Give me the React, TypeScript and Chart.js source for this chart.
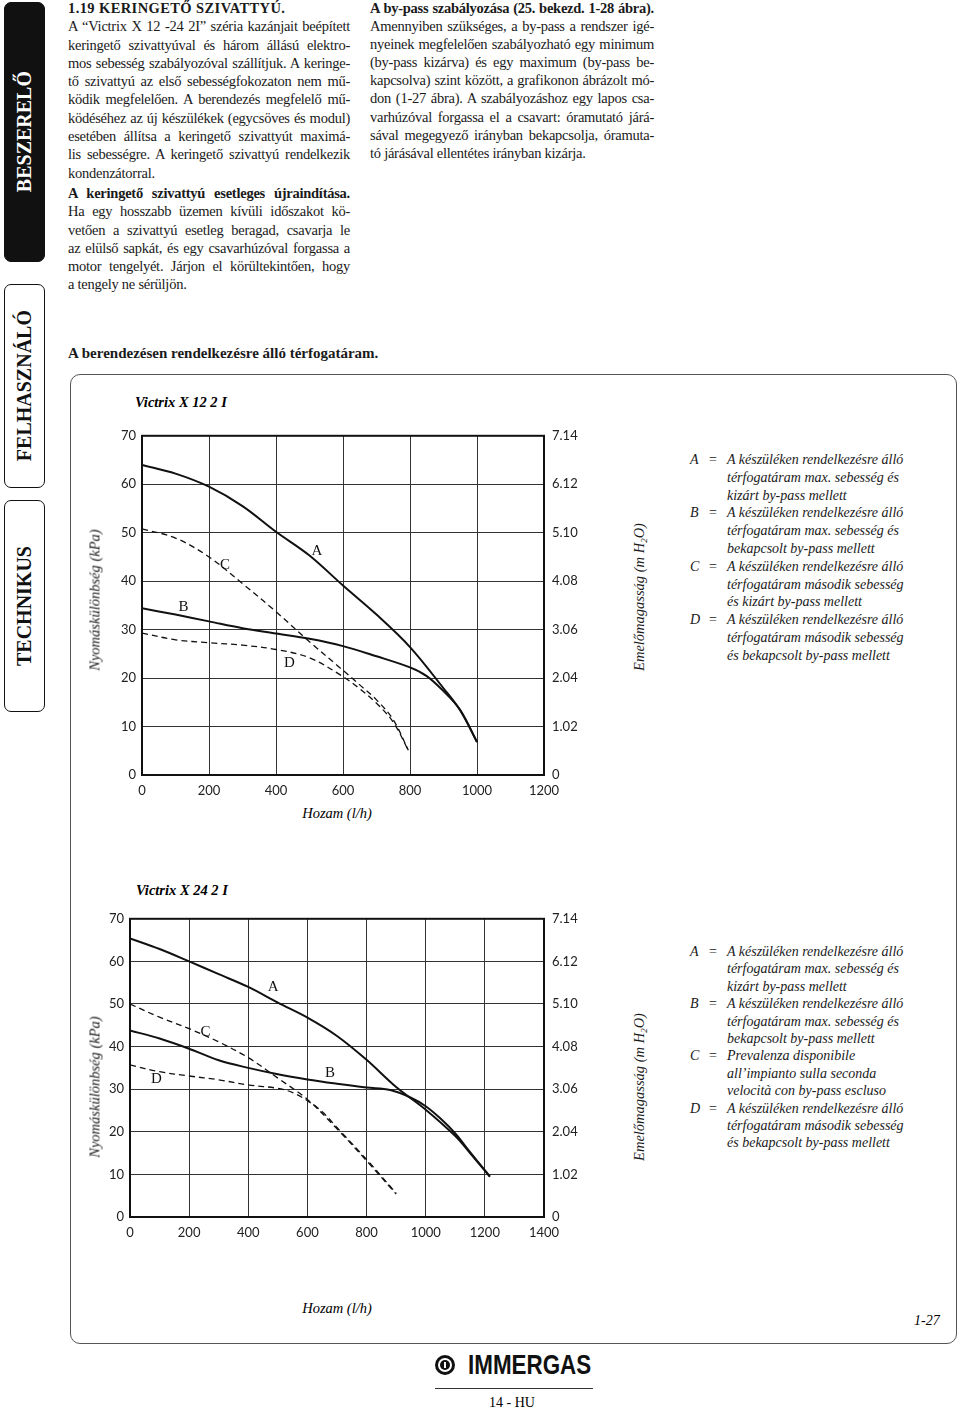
import React, { useEffect, useRef } from 'react';
import { Chart, registerables } from 'chart.js';
Chart.register(...registerables);

// ---------- DATA ----------
// Victrix X 12 2 I
const x12A = [0, 100, 200, 300, 400, 500, 600, 700, 800, 900, 950, 1000];
const y12A = [64.0, 62.2, 59.5, 55.5, 50.2, 45.3, 39.1, 33.1, 26.4, 17.9, 13.3, 6.8];
const x12B = [0, 100, 200, 300, 400, 500, 600, 700, 800, 850, 900, 950, 1000];
const y12B = [34.4, 33.1, 31.7, 30.3, 29.2, 28.1, 26.6, 24.5, 22.2, 20.4, 17.3, 13.4, 6.8];
const x12C = [0, 100, 200, 300, 400, 500, 600, 650, 700, 750, 795];
const y12C = [50.8, 48.9, 45.0, 39.5, 33.7, 27.5, 21.6, 18.6, 15.5, 11.4, 5.1];
const x12D = [0, 100, 200, 300, 400, 500, 600, 650, 700, 750, 795];
const y12D = [29.3, 27.9, 27.3, 26.8, 25.9, 24.2, 20.3, 17.8, 14.8, 10.9, 5.1];
const names12 = ['A', 'B', 'C', 'D'];
const labelX12 = [522, 124, 248, 440];
const labelY12 = [46.3, 34.6, 43.4, 23.0];

// Victrix X 24 2 I
const x24A = [0, 100, 200, 300, 400, 500, 600, 700, 800, 900, 1000, 1100, 1150, 1217];
const y24A = [65.4, 62.9, 60.0, 57.0, 54.0, 50.3, 46.8, 42.5, 36.9, 30.5, 25.2, 19.0, 15.0, 9.5];
const x24B = [0, 100, 200, 300, 400, 500, 600, 700, 800, 880, 950, 1000, 1050, 1100, 1150, 1217];
const y24B = [43.8, 41.9, 39.5, 36.8, 35.0, 33.5, 32.3, 31.3, 30.4, 29.8, 28.0, 26.0, 23.1, 19.6, 15.2, 9.5];
const x24C = [0, 100, 200, 300, 400, 500, 600, 700, 800, 900];
const y24C = [50.0, 46.9, 44.2, 41.1, 37.4, 32.6, 27.6, 20.7, 13.2, 5.4];
const x24D = [0, 100, 200, 300, 400, 500, 550, 600, 650, 700, 800, 900];
const y24D = [35.7, 34.1, 33.1, 32.2, 31.0, 30.2, 29.2, 27.3, 24.7, 21.0, 13.5, 5.6];
const names24 = ['A', 'B', 'C', 'D'];
const labelX24 = [484, 676, 255, 89];
const labelY24 = [53.9, 33.8, 43.5, 32.4];

const rightTickLabels = ['0', '1.02', '2.04', '3.06', '4.08', '5.10', '6.12', '7.14'];

// ---------- TEXT ----------
const leftColLines = [
  ['1.19 KERINGETŐ SZIVATTYÚ.', 'bold-left'],
  ['A “Victrix X 12 -24 2I” széria kazánjait beépített', 'j'],
  ['keringető szivattyúval és három állású elektro-', 'j'],
  ['mos sebesség szabályozóval szállítjuk. A keringe-', 'j'],
  ['tő szivattyú az első sebességfokozaton nem mű-', 'j'],
  ['ködik megfelelően. A berendezés megfelelő mű-', 'j'],
  ['ködéséhez az új készülékek (egycsöves és modul)', 'j'],
  ['esetében állítsa a keringető szivattyút maximá-', 'j'],
  ['lis sebességre. A keringető szivattyú rendelkezik', 'j'],
  ['kondenzátorral.', 'l'],
  ['A keringető szivattyú esetleges újraindítása.', 'bold-j'],
  ['Ha egy hosszabb üzemen kívüli időszakot kö-', 'j'],
  ['vetően a szivattyú esetleg beragad, csavarja le', 'j'],
  ['az elülső sapkát, és egy csavarhúzóval forgassa a', 'j'],
  ['motor tengelyét. Járjon el körültekintően, hogy', 'j'],
  ['a tengely ne sérüljön.', 'l'],
];
const rightColLines = [
  ['A by-pass szabályozása (25. bekezd. 1-28 ábra).', 'bold-j'],
  ['Amennyiben szükséges, a by-pass a rendszer igé-', 'j'],
  ['nyeinek megfelelően szabályozható egy minimum', 'j'],
  ['(by-pass kizárva) és egy maximum (by-pass be-', 'j'],
  ['kapcsolva) szint között, a grafikonon ábrázolt mó-', 'j'],
  ['don (1-27 ábra). A szabályozáshoz egy lapos csa-', 'j'],
  ['varhúzóval forgassa el a csavart: óramutató járá-', 'j'],
  ['sával megegyező irányban bekapcsolja, óramuta-', 'j'],
  ['tó járásával ellentétes irányban kizárja.', 'l'],
];
const legend12 = [
  ['A', 'A készüléken rendelkezésre álló'], ['', 'térfogatáram max. sebesség és'], ['', 'kizárt by-pass mellett'],
  ['B', 'A készüléken rendelkezésre álló'], ['', 'térfogatáram max. sebesség és'], ['', 'bekapcsolt by-pass mellett'],
  ['C', 'A készüléken rendelkezésre álló'], ['', 'térfogatáram második sebesség'], ['', 'és kizárt by-pass mellett'],
  ['D', 'A készüléken rendelkezésre álló'], ['', 'térfogatáram második sebesség'], ['', 'és bekapcsolt by-pass mellett'],
];
const legend24 = [
  ['A', 'A készüléken rendelkezésre álló'], ['', 'térfogatáram max. sebesség és'], ['', 'kizárt by-pass mellett'],
  ['B', 'A készüléken rendelkezésre álló'], ['', 'térfogatáram max. sebesség és'], ['', 'bekapcsolt by-pass mellett'],
  ['C', 'Prevalenza disponibile'], ['', 'all’impianto sulla seconda'], ['', 'velocità con by-pass escluso'],
  ['D', 'A készüléken rendelkezésre álló'], ['', 'térfogatáram második sebesség'], ['', 'és bekapcsolt by-pass mellett'],
];

const SERIF = "'Liberation Serif', 'DejaVu Serif', serif";
const SANS = "Lato, 'Open Sans', sans-serif";

function zip(xs: number[], ys: number[]) {
  return xs.map((x, i) => ({ x, y: ys[i] }));
}

type ChartProps = {
  left: number; top: number; width: number; height: number;
  wl: number; wr: number; padTop: number; xAxisH: number;
  xMax: number;
  series: { x: number[]; y: number[]; dashed: boolean }[];
  names: string[]; lx: number[]; ly: number[];
};

function PumpChart(p: ChartProps) {
  const ref = useRef<HTMLCanvasElement>(null);
  useEffect(() => {
    const tickFont = { family: SANS, size: 13 };
    const overlay = {
      id: 'overlay',
      afterDatasetsDraw(chart: any) {
        const { ctx, chartArea, scales } = chart;
        ctx.save();
        ctx.strokeStyle = '#111';
        ctx.lineWidth = 2;
        ctx.strokeRect(chartArea.left, chartArea.top, chartArea.right - chartArea.left, chartArea.bottom - chartArea.top);
        ctx.fillStyle = '#111';
        ctx.font = `15px ${SERIF}`;
        ctx.textAlign = 'center';
        ctx.textBaseline = 'middle';
        p.names.forEach((n, i) => {
          ctx.fillText(n, scales.x.getPixelForValue(p.lx[i]), scales.y.getPixelForValue(p.ly[i]));
        });
        ctx.restore();
      },
    };
    const chart = new Chart(ref.current as HTMLCanvasElement, {
      type: 'line',
      data: {
        datasets: p.series.map((s) => ({
          data: zip(s.x, s.y),
          borderColor: '#111',
          borderWidth: s.dashed ? 1.3 : 2,
          borderDash: s.dashed ? [6, 4] : [],
          pointRadius: 0,
          fill: false,
          tension: 0.35,
        })),
      },
      options: {
        animation: false,
        responsive: false,
        maintainAspectRatio: false,
        layout: { padding: { top: p.padTop, left: 0, right: 0, bottom: 0 } },
        plugins: { legend: { display: false }, tooltip: { enabled: false } },
        scales: {
          x: {
            type: 'linear', min: 0, max: p.xMax,
            ticks: { stepSize: 200, autoSkip: false, maxRotation: 0, padding: 8, font: tickFont, color: '#222', callback: (v: any) => String(v) },
            grid: { color: '#333', lineWidth: 1, drawTicks: false },
            border: { display: false },
            afterFit: (s: any) => { s.height = p.xAxisH; },
          },
          y: {
            position: 'left', min: 0, max: 70,
            ticks: { stepSize: 10, padding: 6, font: tickFont, color: '#222', callback: (v: any) => String(v) },
            grid: { color: '#333', lineWidth: 1, drawTicks: false },
            border: { display: false },
            afterFit: (s: any) => { s.width = p.wl; },
          },
          y2: {
            position: 'right', min: 0, max: 70,
            ticks: {
              stepSize: 10, padding: 8, font: tickFont, color: '#222',
              callback: (v: any) => rightTickLabels[Math.round(Number(v) / 10)],
            },
            grid: { display: false, drawTicks: false },
            border: { display: false },
            afterFit: (s: any) => { s.width = p.wr; },
          },
        },
      } as any,
      plugins: [overlay],
    });
    return () => chart.destroy();
  }, []);
  return (
    <canvas
      ref={ref}
      width={p.width}
      height={p.height}
      style={{ position: 'absolute', left: p.left, top: p.top, width: p.width, height: p.height }}
    />
  );
}

function TextCol({ lines, left, top, width, lh, gapAfter }: { lines: string[][]; left: number; top: number; width: number; lh: number; gapAfter: number }) {
  return (
    <div style={{ position: 'absolute', left, top, width, fontFamily: SERIF, fontSize: 14.5, letterSpacing: -0.25, color: '#1a1a1a' }}>
      {lines.map(([t, k], i) => (
        <div
          key={i}
          style={{
            height: lh,
            lineHeight: lh + 'px',
            whiteSpace: 'nowrap',
            fontWeight: k.startsWith('bold') ? 700 : 400,
            letterSpacing: k === 'bold-left' ? 0.4 : -0.25,
            textAlign: k.endsWith('j') ? 'justify' : 'left',
            textAlignLast: k.endsWith('j') ? 'justify' : 'left',
            marginBottom: i === gapAfter ? 2 : 0,
          } as any}
        >
          {t}
        </div>
      ))}
    </div>
  );
}

function Legend({ rows, top, lh }: { rows: string[][]; top: number; lh: number }) {
  return (
    <div style={{ position: 'absolute', left: 0, top, fontFamily: SERIF, fontStyle: 'italic', fontSize: 14, color: '#1a1a1a' }}>
      {rows.map(([k, t], i) => (
        <div key={i} style={{ position: 'absolute', top: i * lh, left: 0, height: lh, lineHeight: lh + 'px', whiteSpace: 'nowrap' }}>
          {k && <span style={{ position: 'absolute', left: 690 }}>{k}</span>}
          {k && <span style={{ position: 'absolute', left: 709, fontStyle: 'normal' }}>=</span>}
          <span style={{ position: 'absolute', left: 727 }}>{t}</span>
        </div>
      ))}
    </div>
  );
}

function VText({ cx, cy, children, style }: any) {
  return (
    <div
      style={{
        position: 'absolute', left: cx, top: cy, whiteSpace: 'nowrap',
        transform: 'translate(-50%, -50%) rotate(-90deg)',
        fontFamily: SERIF, fontStyle: 'italic', fontSize: 14.5, color: '#1a1a1a',
        ...style,
      }}
    >
      {children}
    </div>
  );
}

function Tab({ top, height, label, dark }: { top: number; height: number; label: string; dark: boolean }) {
  return (
    <div
      style={{
        position: 'absolute', left: 4, top, width: 41, height, boxSizing: 'border-box',
        borderRadius: 7, background: dark ? '#111' : '#fff', border: '1.5px solid #111',
        display: 'flex', alignItems: 'center', justifyContent: 'center',
      }}
    >
      <div style={{ writingMode: 'vertical-rl', transform: 'rotate(180deg)', fontFamily: SERIF, fontWeight: 700, fontSize: 20, color: dark ? '#fff' : '#111' }}>
        {label}
      </div>
    </div>
  );
}

export default function App() {
  const abs = (o: any) => ({ position: 'absolute', ...o });
  return (
    <div style={{ position: 'absolute', left: 0, top: 0, width: 960, height: 1410, background: '#fff', overflow: 'hidden' }}>
      <Tab top={2} height={260} label="BESZERELŐ" dark />
      <Tab top={284} height={204} label="FELHASZNÁLÓ" dark={false} />
      <Tab top={500} height={212} label="TECHNIKUS" dark={false} />

      <TextCol lines={leftColLines} left={68} top={-1} width={282} lh={18.3} gapAfter={9} />
      <TextCol lines={rightColLines} left={370} top={-1} width={284} lh={18.1} gapAfter={-1} />

      <div style={abs({ left: 68, top: 345, fontFamily: SERIF, fontWeight: 700, fontSize: 15, color: '#1a1a1a', whiteSpace: 'nowrap' })}>
        A berendezésen rendelkezésre álló térfogatáram.
      </div>

      <div style={abs({ left: 70, top: 374, width: 887, height: 970, boxSizing: 'border-box', border: '1.5px solid #555', borderRadius: 10 })} />

      {/* chart 1 */}
      <div style={abs({ left: 135, top: 394, fontFamily: SERIF, fontWeight: 700, fontStyle: 'italic', fontSize: 14.5, whiteSpace: 'nowrap' })}>Victrix X 12 2 I</div>
      <PumpChart
        left={100} top={420} width={500} height={380} wl={42} wr={56} padTop={13} xAxisH={25} xMax={1200}
        series={[
          { x: x12A, y: y12A, dashed: false },
          { x: x12B, y: y12B, dashed: false },
          { x: x12C, y: y12C, dashed: true },
          { x: x12D, y: y12D, dashed: true },
        ]}
        names={names12} lx={labelX12} ly={labelY12}
      />
      <VText cx={95} cy={600}>Nyomáskülönbség (kPa)</VText>
      <VText cx={640} cy={597}>Emelőmagasság (m H<sub style={{ fontSize: 9 }}>2</sub>O)</VText>
      <div style={abs({ left: 337, top: 813, transform: 'translate(-50%,-50%)', fontFamily: SERIF, fontStyle: 'italic', fontSize: 14.5, whiteSpace: 'nowrap' })}>Hozam (l/h)</div>
      <Legend rows={legend12} top={451} lh={17.8} />

      {/* chart 2 */}
      <div style={abs({ left: 136, top: 882, fontFamily: SERIF, fontWeight: 700, fontStyle: 'italic', fontSize: 14.5, whiteSpace: 'nowrap' })}>Victrix X 24 2 I</div>
      <PumpChart
        left={90} top={903} width={510} height={342} wl={40} wr={56} padTop={13} xAxisH={28} xMax={1400}
        series={[
          { x: x24A, y: y24A, dashed: false },
          { x: x24B, y: y24B, dashed: false },
          { x: x24C, y: y24C, dashed: true },
          { x: x24D, y: y24D, dashed: true },
        ]}
        names={names24} lx={labelX24} ly={labelY24}
      />
      <VText cx={95} cy={1087}>Nyomáskülönbség (kPa)</VText>
      <VText cx={640} cy={1087}>Emelőmagasság (m H<sub style={{ fontSize: 9 }}>2</sub>O)</VText>
      <div style={abs({ left: 337, top: 1308, transform: 'translate(-50%,-50%)', fontFamily: SERIF, fontStyle: 'italic', fontSize: 14.5, whiteSpace: 'nowrap' })}>Hozam (l/h)</div>
      <Legend rows={legend24} top={943} lh={17.4} />

      <div style={abs({ left: 914, top: 1313, fontFamily: SERIF, fontStyle: 'italic', fontSize: 14 })}>1-27</div>

      {/* logo */}
      <div style={abs({ left: 435, top: 1355, width: 20, height: 20, borderRadius: '50%', border: '3px solid #111', boxSizing: 'border-box' })} />
      <div style={abs({ left: 440, top: 1360, width: 10, height: 10, borderRadius: '50%', background: '#111' })} />
      <div style={abs({ left: 444, top: 1362, width: 2, height: 6, background: '#fff' })} />
      <div style={abs({ left: 468, top: 1349, transform: 'scaleX(0.8)', transformOrigin: 'left center', fontFamily: "'Liberation Sans Narrow', 'Liberation Sans', sans-serif", fontWeight: 700, fontSize: 28, lineHeight: '32px', color: '#111', whiteSpace: 'nowrap' })}>IMMERGAS</div>
      <div style={abs({ left: 435, top: 1388, width: 158, height: 1, background: '#333' })} />
      <div style={abs({ left: 512, top: 1403, transform: 'translate(-50%,-50%)', fontFamily: SERIF, fontSize: 14, whiteSpace: 'nowrap' })}>14 - HU</div>
    </div>
  );
}
